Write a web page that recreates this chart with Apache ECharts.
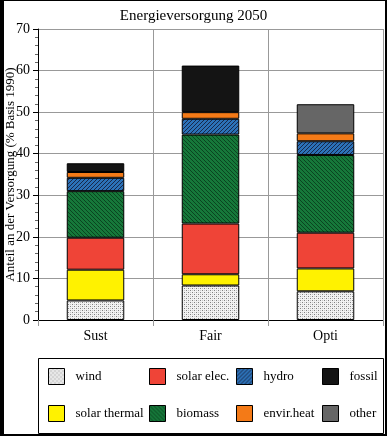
<!DOCTYPE html>
<html><head><meta charset="utf-8">
<script src="https://cdn.jsdelivr.net/npm/echarts@6/dist/echarts.min.js"></script>
<style>html,body{margin:0;padding:0;background:#fff}#c{width:387px;height:436px}</style>
</head><body><div id="c"></div>
<script>
const titleText = 'Energieversorgung 2050';
const yAxisName = 'Anteil an der Versorgung (% Basis 1990)';
const categories = ['Sust', 'Fair', 'Opti'];
const seriesNames = ['wind', 'solar thermal', 'solar elec.', 'biomass', 'hydro', 'envir.heat', 'fossil', 'other'];
const wind         = [4.7, 8.3, 6.9];
const solarThermal = [7.4, 2.7, 5.5];
const solarElec    = [7.7, 12.2, 8.6];
const biomass      = [11.2, 21.4, 18.7];
const hydro        = [3.2, 3.8, 3.3];
const envirHeat    = [1.4, 1.6, 1.9];
const fossil       = [2.1, 11.2, 0];
const other        = [0, 0, 7.0];
const yTicks = [0, 10, 20, 30, 40, 50, 60, 70];
const legendOrder = ['wind', 'solar elec.', 'hydro', 'fossil', 'solar thermal', 'biomass', 'envir.heat', 'other'];

function dots() {
  const c = document.createElement('canvas'); c.width = 4; c.height = 4;
  const g = c.getContext('2d');
  g.fillStyle = '#f2f2f2'; g.fillRect(0, 0, 4, 4);
  g.fillStyle = '#808080'; g.fillRect(0, 0, 1, 1); g.fillRect(2, 2, 1, 1);
  g.fillStyle = '#c8c8c8'; g.fillRect(2, 0, 1, 1); g.fillRect(0, 2, 1, 1);
  return {image: c, repeat: 'repeat'};
}
function hatch(bg, fg, dir) {
  const n = 4;
  const c = document.createElement('canvas'); c.width = n; c.height = n;
  const g = c.getContext('2d');
  g.fillStyle = bg; g.fillRect(0, 0, n, n);
  g.fillStyle = fg;
  for (let i = 0; i < n; i++) {
    const x = dir > 0 ? (n - 1 - i) : i;
    g.fillRect(x, i, 1, 1);
  }
  return {image: c, repeat: 'repeat'};
}

const colors = [
  dots(),
  '#fff200',
  '#ef4437',
  hatch('#16783a', '#0a4520', -1),
  hatch('#2c72b8', '#18284a', 1),
  '#f47a17',
  '#141414',
  '#666666'
];
const dataArr = [wind, solarThermal, solarElec, biomass, hydro, envirHeat, fossil, other];

const series = seriesNames.map((n, i) => ({
  name: n, type: 'bar', stack: 'a', barWidth: '50%',
  data: dataArr[i].map(v => v === 0 ? null : v),
  itemStyle: {color: colors[i], borderColor: '#000', borderWidth: 1},
  emphasis: {disabled: true}
}));

const legX = [48, 149, 236, 322];
const legY = [368, 405];
const legends = legendOrder.map((n, k) => ({
  data: [n], left: legX[k % 4], top: legY[Math.floor(k / 4)],
  orient: 'horizontal', padding: 0, itemWidth: 16, itemHeight: 16, icon: 'rect',
  itemStyle: {borderColor: '#000', borderWidth: 1},
  textStyle: {fontFamily: 'Liberation Serif', fontSize: 13, color: '#000', padding: [0, 0, 0, 6]},
  selectedMode: false
}));

const chart = echarts.init(document.getElementById('c'));
chart.setOption({
  animation: false,
  backgroundColor: '#fff',
  title: {text: titleText, left: 'center', top: 4,
    textStyle: {fontFamily: 'Liberation Serif', fontSize: 15, fontWeight: 'normal', color: '#000'}},
  grid: {left: 38, right: 4, top: 29, bottom: 116, containLabel: false, outerBoundsMode: 'none'},
  legend: legends,
  xAxis: {
    type: 'category', data: categories,
    axisLine: {lineStyle: {color: '#000'}},
    axisTick: {show: true, length: 6, lineStyle: {color: '#999'}},
    splitLine: {show: true, lineStyle: {color: '#999', width: 1}},
    axisLabel: {fontFamily: 'Liberation Serif', fontSize: 14, color: '#000', margin: 9}
  },
  yAxis: {
    type: 'value', min: yTicks[0], max: yTicks[yTicks.length - 1], interval: 10,
    name: yAxisName, nameLocation: 'middle', nameGap: 21, nameMoveOverlap: false,
    nameTextStyle: {fontFamily: 'Liberation Serif', fontSize: 13, color: '#000'},
    axisLine: {show: true, lineStyle: {color: '#000'}},
    axisTick: {show: true, length: 5, lineStyle: {color: '#000'}},
    minorTick: {show: true, splitNumber: 5, length: 3, lineStyle: {color: '#666'}},
    splitLine: {show: true, lineStyle: {color: '#999', width: 1}},
    axisLabel: {fontFamily: 'Liberation Serif', fontSize: 14, color: '#000', margin: 8}
  },
  series: series,
  graphic: [
    {type: 'rect', shape: {x: 38.5, y: 358.5, width: 345, height: 75}, style: {fill: null, stroke: '#000', lineWidth: 1}, z: 0},
    {type: 'rect', shape: {x: 0, y: 0, width: 4, height: 436}, style: {fill: '#000'}},
    {type: 'rect', shape: {x: 385, y: 0, width: 2, height: 436}, style: {fill: '#000'}},
    {type: 'rect', shape: {x: 0, y: 0, width: 387, height: 1}, style: {fill: '#000'}},
    {type: 'rect', shape: {x: 0, y: 434, width: 387, height: 2}, style: {fill: '#000'}}
  ]
});
</script></body></html>
